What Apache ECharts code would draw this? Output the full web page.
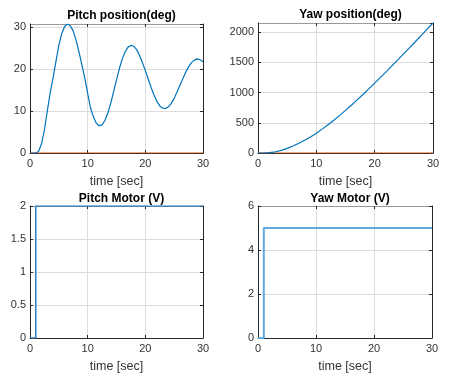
<!DOCTYPE html>
<html><head><meta charset="utf-8">
<script src="https://cdn.jsdelivr.net/npm/echarts@6/dist/echarts.min.js"></script>
<style>html,body{margin:0;padding:0;background:#fff}#c{width:450px;height:382px}</style>
</head><body><div id="c"></div>
<script>
const titles = ['Pitch position(deg)', 'Yaw position(deg)', 'Pitch Motor (V)', 'Yaw Motor (V)'];
const xLabel = 'time [sec]';
const xTicks = [0, 10, 20, 30];
const pitchTime = [0,1,1.5,2,2.5,3,3.5,4,4.5,5,5.5,6,6.5,7,7.5,8,8.5,9,9.5,10,10.5,11,11.5,12,12.5,13,13.5,14,14.5,15,15.5,16,16.5,17,17.5,18,18.5,19,19.5,20,20.5,21,21.5,22,22.5,23,23.5,24,24.5,25,25.5,26,26.5,27,27.5,28,28.5,29,29.5,30];
const pitchDeg = [0,0,0.4,2.2,5.5,10,14.3,17.9,21.8,25.6,28.4,30.1,30.7,30.3,29,26.8,24,21,17.8,14.2,10.7,8.6,7.1,6.5,6.7,7.8,9.5,11.8,14.6,17.4,20.1,22.4,24.1,25.2,25.6,25.4,24.6,23.2,21.5,19.6,17.6,15.6,13.8,12.3,11.2,10.7,10.6,11,11.8,13,14.5,16.1,17.7,19.2,20.5,21.5,22.1,22.4,22.2,21.7];
const yawTime = [0,1,2,3,4,5,6,7,8,9,10,11,12,13,14,15,16,17,18,19,20,21,22,23,24,25,26,27,28,29,30];
const yawDeg = [0,0,5,20,44,76,115,160,210,265,327,395,467,543,622,705,790,878,968,1060,1155,1250,1347,1445,1543,1643,1743,1844,1946,2048,2150];
const refTime = [0, 30];
const refZero = [0, 0];
const stepTime = [0, 1, 1, 30];
const pitchMotor = [0, 0, 2, 2];
const yawMotor = [0, 0, 5, 5];

const pair = (xs, ys) => xs.map((x, i) => [x, ys[i]]);

const grids = [
  {left: 30, top: 24, width: 173, height: 129},
  {left: 258, top: 23, width: 175, height: 130},
  {left: 30, top: 206, width: 173, height: 132},
  {left: 258, top: 206, width: 174, height: 132}
];
const yCfg = [
  {min: 0, max: 30.7, interval: 10},
  {min: 0, max: 2150, interval: 500},
  {min: 0, max: 2, interval: 0.5},
  {min: 0, max: 6, interval: 2}
];
const axisCol = '#262626';
const labCol = '#333333';
const font = 'Liberation Sans, Arial, sans-serif';
const xAxis = [], yAxis = [], series = [], title = [];
grids.forEach((g, i) => {
  xAxis.push({type: 'value', gridIndex: i, min: 0, max: 30, interval: 10,
    axisLine: {show: true, onZero: false, lineStyle: {color: axisCol, width: 1}},
    axisTick: {show: true, inside: true, length: 3, lineStyle: {color: axisCol}},
    axisLabel: {color: labCol, fontSize: 11, fontFamily: font, margin: 5},
    splitLine: {show: true, lineStyle: {color: '#dcdcdc', width: 1}},
    name: xLabel, nameLocation: 'middle', nameGap: 22,
    nameTextStyle: {color: labCol, fontSize: 12.5, fontFamily: font}});
  xAxis.push({type: 'value', gridIndex: i, min: 0, max: 30, interval: 10, position: 'top',
    axisLine: {show: true, onZero: false, lineStyle: {color: '#9a9a9a', width: 1}},
    axisTick: {show: true, inside: true, length: 3, lineStyle: {color: axisCol}},
    axisLabel: {show: false}, splitLine: {show: false}});
  yAxis.push(Object.assign({type: 'value', gridIndex: i,
    axisLine: {show: true, onZero: false, lineStyle: {color: axisCol, width: 1}},
    axisTick: {show: true, inside: true, length: 3, lineStyle: {color: axisCol}},
    axisLabel: {color: labCol, fontSize: 11, fontFamily: font, margin: 4,
      showMaxLabel: i >= 2, formatter: v => String(v)},
    splitLine: {show: true, lineStyle: {color: '#dcdcdc', width: 1}}}, yCfg[i]));
  yAxis.push(Object.assign({type: 'value', gridIndex: i, position: 'right',
    axisLine: {show: true, onZero: false, lineStyle: {color: axisCol, width: 1}},
    axisTick: {show: true, inside: true, length: 3, lineStyle: {color: axisCol}},
    axisLabel: {show: false}, splitLine: {show: false}}, yCfg[i]));
  title.push({text: titles[i], left: g.left + g.width / 2, textAlign: 'center', top: g.top - (i < 2 ? 19 : 18),
    textStyle: {color: '#000', fontSize: 12, fontWeight: 'bold', fontFamily: font}});
});
const line = (xi, yi, data, color, w, z) => ({type: 'line', xAxisIndex: xi, yAxisIndex: yi, data, symbol: 'none',
  lineStyle: {color, width: w}, animation: false, z: z || 2});
series.push(line(0, 0, pair(refTime, refZero), '#D95319', 1.2, 2));
series.push(line(0, 0, pair(pitchTime, pitchDeg), '#0072BD', 1.2, 3));
series.push(line(2, 2, pair(refTime, refZero), '#D95319', 1.2, 2));
series.push(line(2, 2, pair(yawTime, yawDeg), '#0072BD', 1.2, 3));
series.push(line(4, 4, pair(stepTime, pitchMotor), '#2f7fc1', 1.5, 3));
series.push(line(6, 6, pair(stepTime, yawMotor), '#5fa8dc', 2, 3));
const chart = echarts.init(document.getElementById('c'), null, {renderer: 'canvas'});
chart.setOption({backgroundColor: '#fff', animation: false, title, grid: grids, xAxis, yAxis, series});
</script></body></html>
